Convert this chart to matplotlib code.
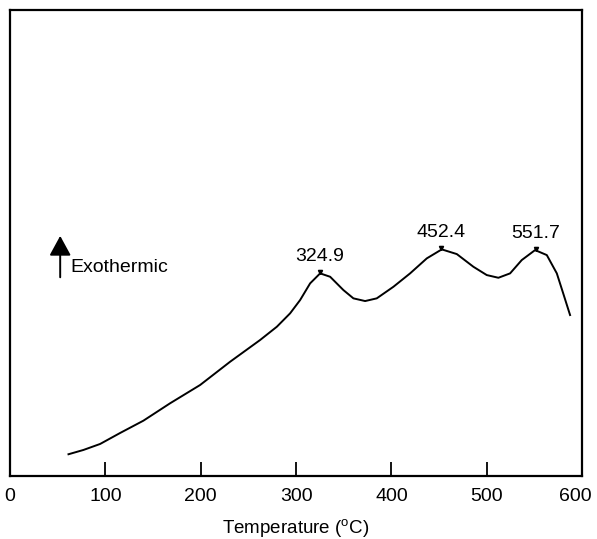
import matplotlib.pyplot as plt

plt.rcParams['font.family'] = ['Liberation Sans', 'DejaVu Sans']
plt.rcParams['mathtext.fontset'] = 'custom'
plt.rcParams['mathtext.rm'] = 'Liberation Sans'

# DTA trace (temperature in C, signal in arbitrary units)
temp = [61.2, 76.9, 94.4, 115.4, 139.8, 167.8, 199.3, 230.8, 262.2, 279.8,
        293.7, 304.2, 314.7, 325.2, 335.7, 349.6, 360.1, 372.4, 384.6, 402.1,
        419.6, 437.1, 452.8, 468.6, 486.0, 500.0, 512.2, 524.5, 536.7, 550.7,
        563.0, 573.5, 580.1, 587.4]
signal = [21.7, 26, 32, 43, 55.3, 72.7, 91, 114.3, 136, 149.3,
          162.7, 176, 192.7, 202.7, 199.3, 186, 177.7, 175, 177.7, 189.3,
          202.7, 217.7, 226.7, 222, 209.3, 201, 198.3, 202.7, 216, 226,
          221, 202.7, 183, 161]

peak_temp = [324.9, 452.4, 551.7]
peak_signal = [202.7, 226.7, 226]
peak_labels = ['324.9', '452.4', '551.7']

xticks = [100, 200, 300, 400, 500]
xlabels = ['0', '100', '200', '300', '400', '500', '600']

fig = plt.figure(figsize=(5.97, 5.39), dpi=100)
ax = fig.add_axes([0.017, 0.117, 0.958, 0.864])

ax.plot(temp, signal, color='black', lw=1.4)
ax.plot(peak_temp, [s + 1 for s in peak_signal], ls='none', marker='v',
        ms=3, color='black')
for t, s, lab in zip(peak_temp, peak_signal, peak_labels):
    ax.text(t, s + 8, lab, ha='center', va='bottom', fontsize=14)

ax.set_xlim(0, 600)
ax.set_ylim(0, 466)
ax.set_xticks(xticks)
ax.set_xticklabels([])
ax.tick_params(axis='x', direction='in', length=10, width=1.3, bottom=True)
ax.set_yticks([])
for sp in ax.spines.values():
    sp.set_linewidth(1.6)

# tick labels sit below the frame; the last one is pulled in from the edge
for v, lab in zip(range(0, 700, 100), xlabels):
    x = v - 7 if v == 600 else v
    ax.text(x, -12, lab, ha='center', va='top', fontsize=14, clip_on=False)
ax.text(300, -41, r'Temperature ($^{\mathrm{o}}$C)', ha='center', va='top',
        fontsize=13.5, clip_on=False)

# exothermic direction marker
ax.annotate('', xy=(52.5, 243), xytext=(52.5, 196),
            arrowprops=dict(arrowstyle='-|>,head_length=0.55,head_width=0.3',
                            color='black', lw=1.4, mutation_scale=22))
ax.text(63, 209, 'Exothermic', ha='left', va='center', fontsize=14)

fig.savefig('out.png', dpi=100)
